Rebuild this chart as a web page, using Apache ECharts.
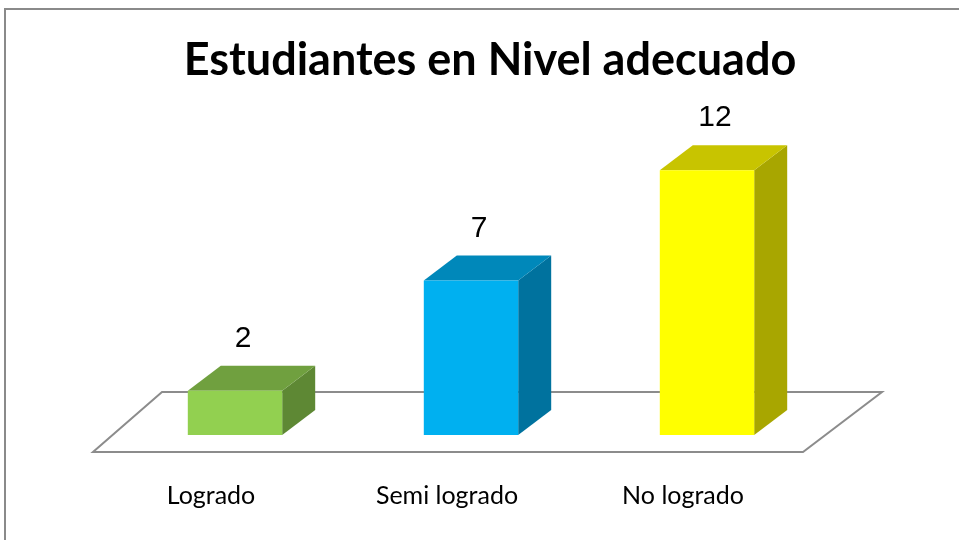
<!DOCTYPE html>
<html>
<head>
<meta charset="utf-8">
<script src="https://cdn.jsdelivr.net/npm/echarts@6/dist/echarts.min.js"></script>
<style>
  html, body { margin: 0; padding: 0; background: #fff; }
  #chart { width: 959px; height: 540px; }
</style>
</head>
<body>
<div id="chart"></div>
<script>
const categories = ["Logrado", "Semi logrado", "No logrado"];
const values = [2, 7, 12];

// front / top / side shades for each bar
const frontColors = ["#92D050", "#00B0F0", "#FFFF00"];
const topColors = ["#70A03F", "#0088BA", "#C8C400"];
const sideColors = ["#5E8834", "#00729E", "#A8A600"];

const chart = echarts.init(document.getElementById("chart"));

const depthX = 33;
const depthY = -25;

function renderBar(params, api) {
  const i = api.value(0);
  const base = api.coord([i, 0]);
  const top = api.coord([i, api.value(1)]);
  const w = api.size([1, 0])[0] * 0.4;
  const x0 = base[0] - w / 2;
  const x1 = base[0] + w / 2;
  const yb = base[1];
  const yt = top[1];
  return {
    type: "group",
    children: [
      {
        type: "polygon",
        shape: { points: [[x1, yt], [x1 + depthX, yt + depthY], [x1 + depthX, yb + depthY], [x1, yb]] },
        style: { fill: sideColors[i] }
      },
      {
        type: "polygon",
        shape: { points: [[x0, yt], [x0 + depthX, yt + depthY], [x1 + depthX, yt + depthY], [x1, yt]] },
        style: { fill: topColors[i] }
      },
      {
        type: "rect",
        shape: { x: x0, y: yt, width: w, height: yb - yt },
        style: { fill: frontColors[i] }
      },
      {
        type: "text",
        style: {
          x: base[0] + 8,
          y: yt - 52,
          text: String(api.value(1)),
          font: "30px 'Liberation Sans', Arial, sans-serif",
          fill: "#000",
          align: "center",
          verticalAlign: "middle"
        }
      }
    ]
  };
}

const option = {
  backgroundColor: "#fff",
  animation: false,
  title: {
    text: "Estudiantes en Nivel adecuado",
    left: 485,
    top: 33,
    textAlign: "center",
    textStyle: {
      fontFamily: "Lato",
      fontWeight: "bold",
      fontSize: 45,
      color: "#000"
    }
  },
  graphic: [
    {
      type: "rect",
      shape: { x: 5, y: 9, width: 1000, height: 600 },
      style: { fill: "none", stroke: "#8a8a8a", lineWidth: 2 },
      z: -10
    },
    {
      type: "polygon",
      shape: { points: [[162, 392], [882, 392], [803, 452], [93, 452]] },
      style: { fill: "#fff", stroke: "#8c8c8c", lineWidth: 2 },
      z: -5
    }
  ],
  grid: { left: 117, right: 134, top: 126, bottom: 105 },
  xAxis: {
    type: "category",
    data: categories,
    axisLine: { show: false },
    axisTick: { show: false },
    axisLabel: {
      margin: 48,
      padding: [0, 48, 0, 0],
      fontFamily: "Lato",
      fontSize: 25,
      color: "#000"
    }
  },
  yAxis: {
    type: "value",
    min: 0,
    max: 14,
    show: false
  },
  series: [
    {
      type: "custom",
      renderItem: renderBar,
      data: values.map((v, i) => [i, v]),
      z: 2
    }
  ]
};

chart.setOption(option);
</script>
</body>
</html>
